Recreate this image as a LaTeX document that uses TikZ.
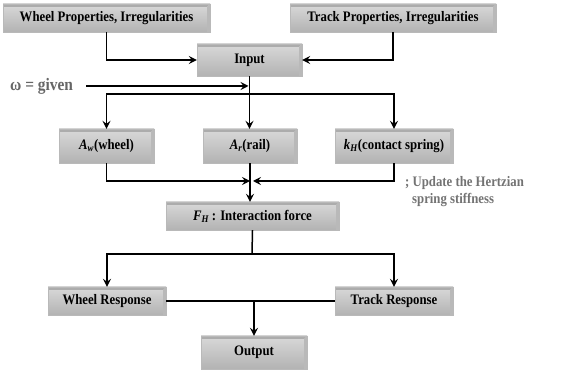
\documentclass[tikz,border=0pt]{standalone}
\usepackage{fontspec}
\setmainfont{Liberation Serif}
\newfontfamily\condserif[FakeStretch=0.88]{Liberation Serif}
\usetikzlibrary{arrows.meta,calc}
\tikzset{
  box/.style={rectangle, draw=gray!55, line width=0.4pt, inner sep=0pt,
    top color=gray!30, middle color=white!92!gray, bottom color=gray!60,
    font=\condserif\fontsize{14.5}{16}\selectfont\bfseries,
    path picture={
      \fill[gray!65] (path picture bounding box.north west) -- (path picture bounding box.north east)
        -- ([xshift=-3pt,yshift=-3pt]path picture bounding box.north east)
        -- ([yshift=-3pt]path picture bounding box.north west) -- cycle;
      \fill[gray!55] (path picture bounding box.north east) -- (path picture bounding box.south east)
        -- ([xshift=-3pt]path picture bounding box.south east)
        -- ([xshift=-3pt,yshift=-3pt]path picture bounding box.north east) -- cycle;
    }},
  arr/.style={line width=1.5pt, -{Stealth[length=8pt,width=8pt,inset=3pt]}},
  ln/.style={line width=1.5pt},
  note/.style={font=\condserif\fontsize{14.5}{16}\selectfont\bfseries, text=gray!90!black, inner sep=0pt}
}
\begin{document}
\begin{tikzpicture}[x=1pt,y=-1pt]
\useasboundingbox (0,0) rectangle (584,371);
\fill[white] (0,0) rectangle (584,371);

\node[box, minimum width=207pt, minimum height=28pt] (wp) at (106.5,18) {Wheel Properties, Irregularities};
\node[box, minimum width=206pt, minimum height=28pt] (tp) at (393,18) {Track Properties, Irregularities};
\node[box, minimum width=105pt, minimum height=32pt] (in) at (249.5,60) {Input};
\node[note, font=\condserif\fontsize{17.5}{19}\selectfont\bfseries, text=gray!80!black, anchor=west] (om) at (10,86) {ω = given};
\node[box, minimum width=95pt, minimum height=34pt] (aw) at (106.5,146) {\textit{A}\textsubscript{\textit{w}}(wheel)};
\node[box, minimum width=94pt, minimum height=34pt] (ar) at (250,146) {\textit{A}\textsubscript{\textit{r}}(rail)};
\node[box, minimum width=118pt, minimum height=34pt] (kh) at (394,146) {\textit{k}\textsubscript{\textit{H}}(contact spring)};
\node[note, anchor=west, align=left] (up) at (405,192) {; Update the Hertzian\\[1pt]\hspace*{7pt}spring stiffness};
\node[box, minimum width=173pt, minimum height=28pt] (fh) at (252.5,216) {\textit{F}\textsubscript{\textit{H}}\,: Interaction force};
\node[box, minimum width=118pt, minimum height=28pt] (wr) at (107,301) {Wheel Response};
\node[box, minimum width=118pt, minimum height=28pt] (tr) at (394,301) {Track Response};
\node[box, minimum width=106pt, minimum height=33pt] (out) at (254,352.5) {Output};

\coordinate (os) at (86,86);
\coordinate (s1) at (250,94);
\coordinate (m1) at (251,181);
\coordinate (s2) at (252,254);
\coordinate (m3) at (254,301);

\draw[arr] (wp.south) |- (in.west);
\draw[arr] (tp.south) |- (in.east);
\draw[arr] (os) -- ($(os -| in.south)+(-1,0)$);
\draw[arr] (in.south) -- (in.south |- ar.north);
\draw[arr] (s1) -| (aw.north);
\draw[arr] (s1) -| (kh.north);
\draw[arr] (aw.south) |- ($(m1)+(-1,0)$);
\draw[arr] (kh.south) |- ($(m1)+(2,0)$);
\draw[arr] (ar.south) -- (ar.south |- fh.north);
\draw[ln] (fh.south) -- (s2);
\draw[arr] (s2) -| (wr.north);
\draw[arr] (s2) -| (tr.north);
\draw[ln] (wr.east) -- (tr.west);
\draw[arr] (m3) -- (out.north);
\end{tikzpicture}
\end{document}
